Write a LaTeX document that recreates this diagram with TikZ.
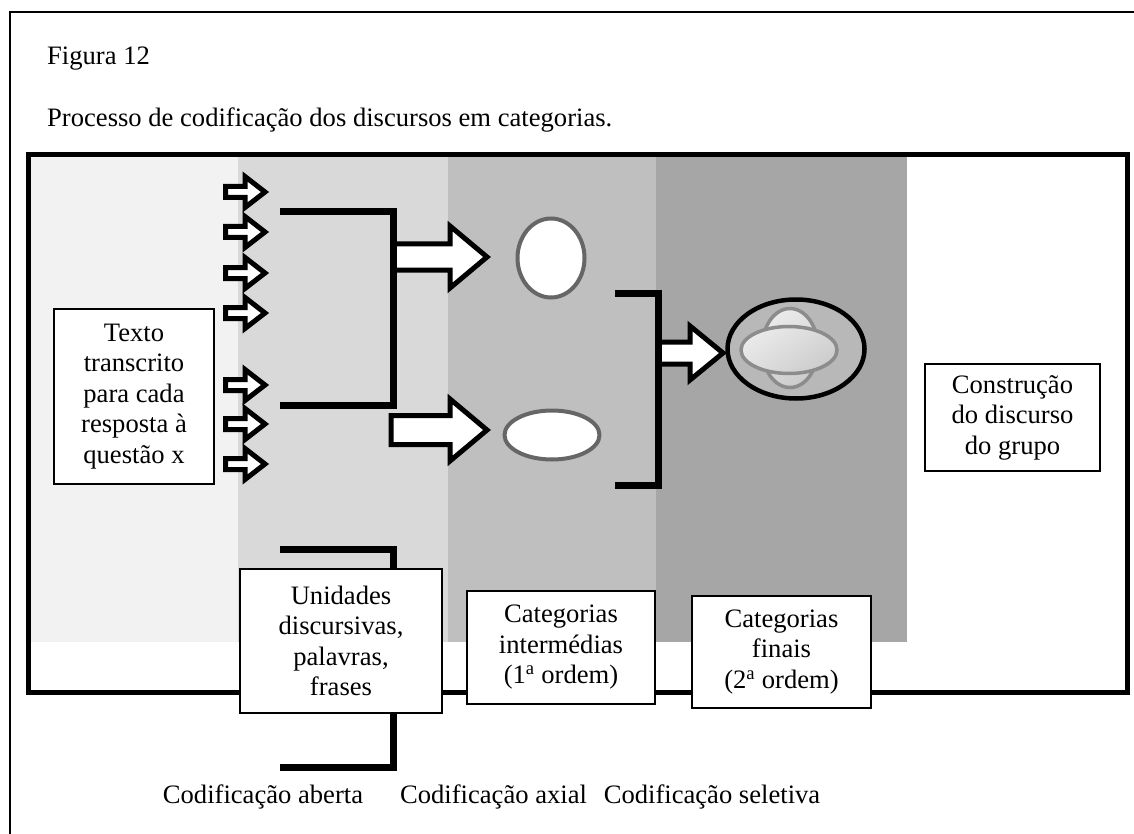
\documentclass[tikz,border=0pt]{standalone}
\usepackage{fontspec}
\setmainfont{Liberation Serif}
\usetikzlibrary{shapes.geometric}

\definecolor{bandA}{HTML}{F2F2F2}
\definecolor{bandB}{HTML}{D9D9D9}
\definecolor{bandC}{HTML}{BFBFBF}
\definecolor{bandD}{HTML}{A6A6A6}
\definecolor{catline}{HTML}{666666}
\definecolor{innerline}{HTML}{8C8C8C}
\definecolor{outerfill}{HTML}{B8B8B8}

% block arrow: tail x, centre y, head base x, tip x, shaft half height, head half height
\newcommand{\blockarrow}[6]{%
  \draw[blockarrow] (#1,#2-#5) -- (#3,#2-#5) -- (#3,#2-#6) -- (#4,#2)
    -- (#3,#2+#6) -- (#3,#2+#5) -- (#1,#2+#5) -- cycle;}

\begin{document}
\begin{tikzpicture}[x=1pt,y=-1pt,
  txt/.style={font=\fontsize{26.6}{30.5}\selectfont, inner sep=0pt},
  box/.style={txt, rectangle, draw=black, line width=1.5pt, fill=white, align=center},
  bracket/.style={draw=black, line width=7pt, line join=miter, line cap=butt},
  blockarrow/.style={draw=black, fill=white, line width=5pt, line join=miter, miter limit=10},
  catshape/.style={ellipse, draw=catline, line width=4pt, fill=white, inner sep=0pt},
  innershape/.style={ellipse, draw=innerline, line width=3.5pt, inner sep=0pt,
    top color=white!92!black, bottom color=white!80!black, shading angle=35}]

\useasboundingbox (0,0) rectangle (1134,834);
\fill[white] (0,0) rectangle (1134,834);

% outer page frame (only its top and left sides fall inside the page)
\draw[line width=1.6pt] (10,834) -- (10,12) -- (1134,12);

% coding stages as grey bands
\fill[bandA] (28,155) rectangle (238,642);
\fill[bandB] (238,155) rectangle (448,642);
\fill[bandC] (448,155) rectangle (656,642);
\fill[bandD] (656,155) rectangle (907,642);

% main frame
\draw[line width=5pt] (28,155) rectangle (1127,692);

% titles
\node[txt, anchor=base west] (fig) at (47,65) {Figura 12};
\node[txt, anchor=base west] (cap) at (47,127) {Processo de codificação dos discursos em categorias.};

% small input arrows
\foreach \yy in {192,232,273,313,385,424,464}{
  \blockarrow{225.5}{\yy}{245}{265}{5.5}{15.5}
}

% arrows towards the intermediate categories
\blockarrow{393}{257}{450}{487}{13}{31}
\blockarrow{391}{430}{450}{487}{14.5}{31}

% arrow towards the final category
\blockarrow{658}{353}{690}{723}{11}{27}

% brackets
\coordinate (b1a) at (280,212); \coordinate (b1b) at (393,212);
\coordinate (b1c) at (393,405); \coordinate (b1d) at (280,405);
\draw[bracket] (b1a) -- (b1b) -- (b1c) -- (b1d);
\coordinate (b2a) at (615,293); \coordinate (b2b) at (658,293);
\coordinate (b2c) at (658,485); \coordinate (b2d) at (615,485);
\draw[bracket] (b2a) -- (b2b) -- (b2c) -- (b2d);
\coordinate (b3a) at (280,549); \coordinate (b3b) at (393,549);
\coordinate (b3c) at (393,767); \coordinate (b3d) at (280,767);
\draw[bracket] (b3a) -- (b3b) -- (b3c) -- (b3d);

% intermediate categories
\node[catshape, minimum width=67pt, minimum height=79pt] (cat1) at (551,258) {};
\node[catshape, minimum width=95pt, minimum height=49pt] (cat2) at (552,435) {};

% final category
\node[ellipse, draw=black, line width=4.5pt, fill=outerfill, inner sep=0pt,
      minimum width=137pt, minimum height=99pt] (final) at (796,349) {};
\node[innershape, minimum width=56pt, minimum height=79pt] (finv) at (790,348) {};
\node[innershape, minimum width=96pt, minimum height=47pt] (finh) at (789,350) {};

% text boxes
\node[box, minimum width=160pt, minimum height=175pt] (texto) at (134,396.5)
  {Texto\\transcrito\\para cada\\resposta à\\questão x};
\node[box, minimum width=202pt, minimum height=144pt] (unid) at (341,641)
  {Unidades\\discursivas,\\palavras,\\frases};
\node[box, minimum width=188pt, minimum height=113pt] (inter) at (561,647.5)
  {Categorias\\intermédias\\(1\textsuperscript{a} ordem)};
\node[box, minimum width=179pt, minimum height=112pt] (finais) at (781.5,652)
  {Categorias\\finais\\(2\textsuperscript{a} ordem)};
\node[box, minimum width=175pt, minimum height=107pt] (grupo) at (1012.5,417.5)
  {Construção\\do discurso\\do grupo};

% coding stage labels
\node[txt, anchor=base] (lab1) at (263,803) {Codificação aberta};
\node[txt, anchor=base] (lab2) at (493.5,803) {Codificação axial};
\node[txt, anchor=base] (lab3) at (712,803) {Codificação seletiva};

\end{tikzpicture}
\end{document}
